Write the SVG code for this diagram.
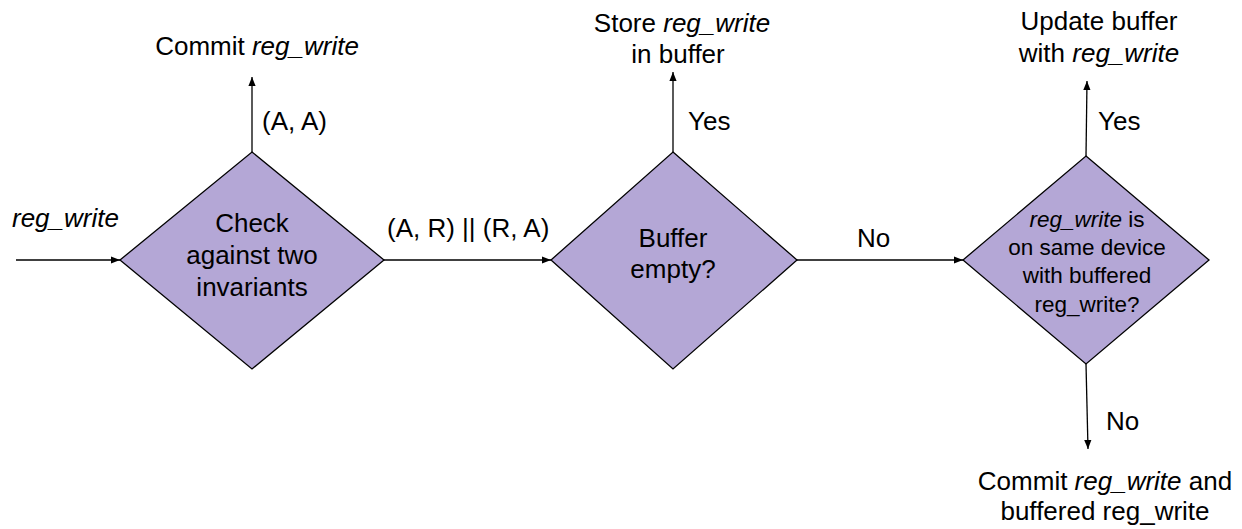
<svg xmlns="http://www.w3.org/2000/svg" width="1242" height="529" viewBox="0 0 1242 529">
  <defs>
    <marker id="arrow" viewBox="0 0 10 8" refX="10" refY="4" markerWidth="9" markerHeight="7.5" markerUnits="userSpaceOnUse" orient="auto">
      <path d="M0,0 L10,4 L0,8 Z" fill="#000"/>
    </marker>
  </defs>
  <style>
    .decision { fill: #b4a7d6; stroke: #000; stroke-width: 1.3; }
    .edge { fill: none; stroke: #000; stroke-width: 1.3; marker-end: url(#arrow); }
    text { font-family: "Liberation Sans", Arial, sans-serif; fill: #000; }
    .lbl { font-size: 26px; }
    .small { font-size: 22.5px; }
    .mid { text-anchor: middle; }
    .it { font-style: italic; }
  </style>
  <rect width="1242" height="529" fill="#fff"/>

  <!-- connectors -->
  <g id="connectors">
    <line class="edge" x1="16" y1="260" x2="120" y2="260"/>
    <line class="edge" x1="252" y1="152" x2="252" y2="77"/>
    <line class="edge" x1="384" y1="260" x2="551" y2="260"/>
    <line class="edge" x1="673" y1="152" x2="673" y2="72"/>
    <line class="edge" x1="797" y1="260" x2="963" y2="260"/>
    <line class="edge" x1="1086" y1="156" x2="1087" y2="81"/>
    <line class="edge" x1="1086" y1="364" x2="1088" y2="449"/>
  </g>

  <!-- edge labels -->
  <g id="edge-labels" class="lbl">
    <text x="12" y="227" class="it">reg_write</text>
    <text x="262" y="130">(A, A)</text>
    <text x="387" y="237">(A, R) || (R, A)</text>
    <text x="688" y="130">Yes</text>
    <text x="857" y="247">No</text>
    <text x="1098" y="130">Yes</text>
    <text x="1106" y="430">No</text>
  </g>

  <!-- decision: check invariants -->
  <g id="check-invariants">
    <polygon class="decision" points="252,152 384,260 252,369 120,260"/>
    <text class="lbl mid" x="252" y="232">Check</text>
    <text class="lbl mid" x="252" y="264">against two</text>
    <text class="lbl mid" x="252" y="296">invariants</text>
  </g>

  <!-- decision: buffer empty -->
  <g id="buffer-empty">
    <polygon class="decision" points="673,152 797,260 673,369 551,260"/>
    <text class="lbl mid" x="673" y="247">Buffer</text>
    <text class="lbl mid" x="673" y="278">empty?</text>
  </g>

  <!-- decision: same device -->
  <g id="same-device">
    <polygon class="decision" points="1086,156 1209,260 1086,364 963,260"/>
    <text class="small mid" x="1087" y="227"><tspan class="it">reg_write</tspan> is</text>
    <text class="small mid" x="1087" y="255">on same device</text>
    <text class="small mid" x="1087" y="283">with buffered</text>
    <text class="small mid" x="1087" y="312">reg_write?</text>
  </g>

  <!-- outcomes -->
  <g id="commit-write">
    <text class="lbl mid" x="257" y="55">Commit <tspan class="it">reg_write</tspan></text>
  </g>
  <g id="store-in-buffer">
    <text class="lbl mid" x="682" y="32">Store <tspan class="it">reg_write</tspan></text>
    <text class="lbl mid" x="678" y="63">in buffer</text>
  </g>
  <g id="update-buffer">
    <text class="lbl mid" x="1099" y="30">Update buffer</text>
    <text class="lbl mid" x="1099" y="62">with <tspan class="it">reg_write</tspan></text>
  </g>
  <g id="commit-both">
    <text class="lbl mid" x="1105" y="490">Commit <tspan class="it">reg_write</tspan> and</text>
    <text class="lbl mid" x="1105" y="520">buffered reg_write</text>
  </g>
</svg>
